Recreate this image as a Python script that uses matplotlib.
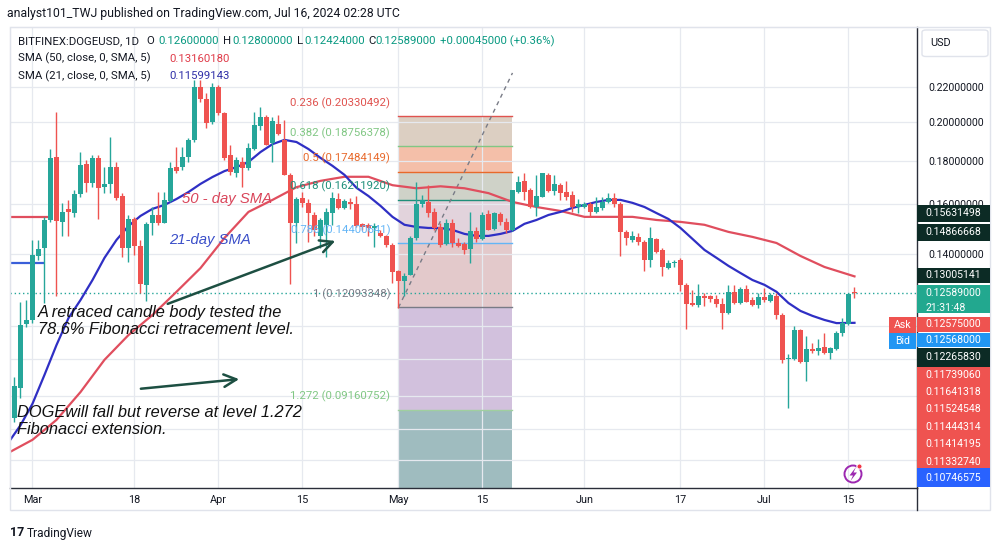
import numpy as np
import pandas as pd
import matplotlib
matplotlib.use("Agg")
import matplotlib.pyplot as plt
import matplotlib.dates as mdates
from matplotlib.patches import Rectangle, Circle, FancyBboxPatch, Polygon
from matplotlib.transforms import IdentityTransform
from matplotlib.ticker import FixedLocator, FixedFormatter, NullFormatter

plt.rcParams['font.family'] = ['Roboto', 'DejaVu Sans']

# ---------------- data ----------------
dates = pd.date_range("2024-02-27", "2024-07-16", freq="D")

opens = [0.0895, 0.0971, 0.1155, 0.1169, 0.1391, 0.1420, 0.1534, 0.1819, 0.1527, 0.1579,
         0.1565, 0.1645, 0.1786, 0.1695, 0.1814, 0.1676, 0.1692, 0.1770, 0.1637, 0.1423,
         0.1537, 0.1430, 0.1286, 0.1521, 0.1555, 0.1523, 0.1617, 0.1770, 0.1773, 0.1819,
         0.1907, 0.2204, 0.2131, 0.2000, 0.2200, 0.2053, 0.1830, 0.1744, 0.1798, 0.1765,
         0.1858, 0.1982, 0.2027, 0.1889, 0.1991, 0.1907, 0.1734, 0.1520, 0.1627, 0.1608,
         0.1555, 0.1467, 0.1514, 0.1565, 0.1622, 0.1583, 0.1612, 0.1602, 0.1516, 0.1514,
         0.1500, 0.1480, 0.1467, 0.1434, 0.1337, 0.1301, 0.1321, 0.1460, 0.1602, 0.1612,
         0.1569, 0.1507, 0.1436, 0.1523, 0.1440, 0.1438, 0.1417, 0.1487, 0.1456, 0.1560,
         0.1496, 0.1560, 0.1524, 0.1494, 0.1657, 0.1706, 0.1664, 0.1587, 0.1634, 0.1734,
         0.1661, 0.1687, 0.1657, 0.1641, 0.1590, 0.1587, 0.1602, 0.1569, 0.1583, 0.1612,
         0.1630, 0.1602, 0.1483, 0.1453, 0.1464, 0.1446, 0.1376, 0.1457, 0.1414, 0.1345,
         0.1366, 0.1376, 0.1286, 0.1223, 0.1218, 0.1248, 0.1246, 0.1237, 0.1221, 0.1191,
         0.1260, 0.1225, 0.1271, 0.1234, 0.1218, 0.1243, 0.1232, 0.1249, 0.1185, 0.1051,
         0.1051, 0.1138, 0.1044, 0.1079, 0.1073, 0.1086, 0.1068, 0.1079, 0.1128, 0.1156,
         0.1260]
highs = [0.1002, 0.1229, 0.1234, 0.1452, 0.1452, 0.1548, 0.1858, 0.2059, 0.1605, 0.1619,
         0.1664, 0.1847, 0.1806, 0.1831, 0.1831, 0.1773, 0.1924, 0.1798, 0.1649, 0.1555,
         0.1548, 0.1452, 0.1527, 0.1590, 0.1657, 0.1657, 0.1798, 0.1872, 0.1872, 0.1916,
         0.2244, 0.2244, 0.2164, 0.2224, 0.2214, 0.2059, 0.1880, 0.1822, 0.1822, 0.1889,
         0.2059, 0.2087, 0.2040, 0.2031, 0.2040, 0.2013, 0.1742, 0.1634, 0.1657, 0.1622,
         0.1569, 0.1541, 0.1583, 0.1657, 0.1652, 0.1622, 0.1627, 0.1637, 0.1521, 0.1521,
         0.1521, 0.1494, 0.1473, 0.1440, 0.1339, 0.1327, 0.1467, 0.1703, 0.1641, 0.1687,
         0.1583, 0.1521, 0.1537, 0.1537, 0.1459, 0.1446, 0.1569, 0.1507, 0.1569, 0.1576,
         0.1569, 0.1569, 0.1541, 0.1664, 0.1728, 0.1741, 0.1672, 0.1734, 0.1744, 0.1741,
         0.1734, 0.1695, 0.1707, 0.1661, 0.1622, 0.1612, 0.1612, 0.1634, 0.1634, 0.1649,
         0.1652, 0.1612, 0.1491, 0.1487, 0.1480, 0.1453, 0.1507, 0.1460, 0.1421, 0.1376,
         0.1376, 0.1383, 0.1291, 0.1268, 0.1288, 0.1257, 0.1251, 0.1251, 0.1240, 0.1286,
         0.1286, 0.1280, 0.1285, 0.1243, 0.1257, 0.1274, 0.1257, 0.1257, 0.1190, 0.1065,
         0.1149, 0.1141, 0.1120, 0.1097, 0.1109, 0.1129, 0.1086, 0.1133, 0.1174, 0.1257,
         0.1280]
lows = [0.0887, 0.0945, 0.1148, 0.1159, 0.1376, 0.1223, 0.1527, 0.1246, 0.1467, 0.1467,
        0.1548, 0.1634, 0.1657, 0.1680, 0.1537, 0.1649, 0.1649, 0.1619, 0.1389, 0.1370,
        0.1395, 0.1257, 0.1232, 0.1473, 0.1514, 0.1521, 0.1612, 0.1743, 0.1758, 0.1798,
        0.1898, 0.2116, 0.1968, 0.1989, 0.2040, 0.1806, 0.1734, 0.1726, 0.1680, 0.1758,
        0.1855, 0.1959, 0.1880, 0.1798, 0.1933, 0.1734, 0.1289, 0.1442, 0.1590, 0.1446,
        0.1467, 0.1421, 0.1389, 0.1514, 0.1579, 0.1579, 0.1579, 0.1507, 0.1494, 0.1467,
        0.1427, 0.1464, 0.1424, 0.1294, 0.1209, 0.1246, 0.1321, 0.1453, 0.1590, 0.1548,
        0.1494, 0.1424, 0.1434, 0.1427, 0.1427, 0.1398, 0.1364, 0.1446, 0.1453, 0.1491,
        0.1494, 0.1514, 0.1480, 0.1487, 0.1649, 0.1619, 0.1583, 0.1551, 0.1631, 0.1657,
        0.1641, 0.1619, 0.1619, 0.1569, 0.1563, 0.1583, 0.1548, 0.1565, 0.1576, 0.1605,
        0.1590, 0.1391, 0.1434, 0.1446, 0.1434, 0.1337, 0.1349, 0.1402, 0.1317, 0.1342,
        0.1351, 0.1263, 0.1142, 0.1215, 0.1212, 0.1215, 0.1229, 0.1212, 0.1142, 0.1189,
        0.1221, 0.1221, 0.1226, 0.1215, 0.1207, 0.1229, 0.1229, 0.1171, 0.1041, 0.0920,
        0.1049, 0.1041, 0.0991, 0.1068, 0.1063, 0.1066, 0.1051, 0.1077, 0.1120, 0.1153,
        0.12424]
closes = [0.0976, 0.1153, 0.1170, 0.1395, 0.1417, 0.1534, 0.1817, 0.1531, 0.1569, 0.1569,
          0.1645, 0.1782, 0.1695, 0.1814, 0.1675, 0.1692, 0.1770, 0.1627, 0.1421, 0.1537,
          0.1431, 0.1288, 0.1518, 0.1555, 0.1523, 0.1620, 0.1765, 0.1753, 0.1819, 0.1907,
          0.2204, 0.2131, 0.1995, 0.2204, 0.2054, 0.1814, 0.1749, 0.1806, 0.1765, 0.1863,
          0.1986, 0.2031, 0.1880, 0.2009, 0.1938, 0.1734, 0.1520, 0.1622, 0.1605, 0.1563,
          0.1491, 0.1534, 0.1566, 0.1627, 0.1583, 0.1614, 0.1602, 0.1511, 0.1507, 0.1500,
          0.1511, 0.1469, 0.1434, 0.1333, 0.1301, 0.1319, 0.1460, 0.1602, 0.1619, 0.1563,
          0.1500, 0.1434, 0.1523, 0.1440, 0.1430, 0.1415, 0.1487, 0.1456, 0.1555, 0.1494,
          0.1563, 0.1527, 0.1491, 0.1662, 0.1702, 0.1657, 0.1590, 0.1637, 0.1741, 0.1661,
          0.1692, 0.1649, 0.1634, 0.1590, 0.1602, 0.1602, 0.1569, 0.1587, 0.1612, 0.1630,
          0.1602, 0.1483, 0.1460, 0.1469, 0.1446, 0.1376, 0.1460, 0.1408, 0.1349, 0.1366,
          0.1370, 0.1286, 0.1221, 0.1218, 0.1246, 0.1241, 0.1237, 0.1221, 0.1191, 0.1260,
          0.1225, 0.1271, 0.1229, 0.1218, 0.1243, 0.1234, 0.1250, 0.1185, 0.1049, 0.1055,
          0.1138, 0.1044, 0.1079, 0.1073, 0.1083, 0.1068, 0.1083, 0.1129, 0.1158, 0.12544,
          0.12589]

# moving averages (days counted from 1 Mar 2024)
sma21_days = [-3.7, -2, 0, 2, 4, 6, 8, 10, 12, 14, 16, 18, 20, 22, 24, 26, 28, 30, 32, 34,
              36, 38, 40, 42, 44, 46, 48, 50, 52, 54, 56, 58, 60, 62, 64, 66, 68, 70, 72, 74,
              76, 78, 80, 82, 84, 86, 88, 90, 92, 94, 96, 98, 100, 102, 104, 106, 108, 110,
              112, 114, 116, 118, 120, 122, 124, 126, 128, 130, 132, 134, 137]
sma21_vals = [0.0844, 0.0878, 0.0931, 0.1007, 0.1092, 0.1175, 0.1234, 0.1303, 0.1384, 0.1453,
              0.1509, 0.1551, 0.1581, 0.1598, 0.1624, 0.1655, 0.1692, 0.1724, 0.1752, 0.1771,
              0.1796, 0.1845, 0.1885, 0.1907, 0.1896, 0.1860, 0.1816, 0.1777, 0.1734, 0.1674,
              0.1637, 0.1594, 0.1547, 0.1514, 0.1505, 0.1501, 0.1501, 0.1493, 0.1477, 0.1469,
              0.1469, 0.1477, 0.1489, 0.1518, 0.1534, 0.1555, 0.1568, 0.1585, 0.1598, 0.1611,
              0.1620, 0.1620, 0.1607, 0.1589, 0.1563, 0.1538, 0.1501, 0.1457, 0.1414, 0.1384,
              0.1354, 0.1328, 0.1303, 0.1286, 0.1262, 0.1224, 0.1198, 0.1182, 0.1169, 0.1159,
              0.11599]
sma50_days = [-3.7, 0, 4, 8, 12, 16, 20, 24, 28, 32, 36, 40, 44, 48, 52, 56, 60, 64, 68, 72,
              76, 80, 84, 88, 92, 96, 100, 104, 108, 112, 116, 120, 124, 128, 132, 137]
sma50_vals = [0.0817, 0.0844, 0.0891, 0.0961, 0.1049, 0.1122, 0.1185, 0.1262, 0.1346, 0.1461,
              0.1568, 0.1620, 0.1677, 0.1706, 0.1725, 0.1725, 0.1686, 0.1672, 0.1681, 0.1672,
              0.1650, 0.1611, 0.1589, 0.1572, 0.1547, 0.1547, 0.1547, 0.1534, 0.1526, 0.1514,
              0.1485, 0.1465, 0.1441, 0.1391, 0.1350, 0.13160]
old_red_level = 0.1548
old_blue_level = 0.1364

fib_levels = ["0.236", "0.382", "0.5", "0.618", "0.786", "1", "1.272"]
fib_prices = [0.20330492, 0.18756378, 0.17484149, 0.16211920, 0.14400641, 0.12093348, 0.09160752]
fib_floor = 0.05430          # 1.618 level
fib_top_anchor = 0.22875     # 0 level
fib_start, fib_end = "2024-05-01", "2024-05-20"

last_price = 0.12589

xtick_dates = ["2024-03-01", "2024-03-18", "2024-04-01", "2024-04-15", "2024-05-01",
               "2024-05-15", "2024-06-01", "2024-06-17", "2024-07-01", "2024-07-15"]
xtick_labels = ["Mar", "18", "Apr", "15", "May", "15", "Jun", "17", "Jul", "15"]
ytick_major = [0.14, 0.16, 0.18, 0.20, 0.22]
ytick_minor = [0.080, 0.087, 0.095, 0.105, 0.115]

# annotations (day offset from 1 Mar, price)
note1_lines = ["A retraced candle body tested the", "78.6% Fibonacci retracement level."]
note1_pos = [(0.9, 0.1193), (0.9, 0.1140)]
note2_lines = ["DOGEwill fall but reverse at level 1.272", "Fibonacci extension."]
note2_pos = [(-2.6, 0.0908), (-2.6, 0.0867)]
arrow1 = [(22.1, 0.1218), (50.9, 0.1453)]
arrow2 = [(17.6, 0.0969), (34.9, 0.0996)]
sma50_label = ("50 - day SMA", 24.9, 0.1626)
sma21_label = ("21-day SMA", 22.8, 0.1453)

# ---------------- figure ----------------
W, H = 1003, 551
fig = plt.figure(figsize=(W / 100, H / 100), dpi=100)
fig.patch.set_facecolor("white")


def fx(px):
    return px / W


def fy(py):
    return 1 - py / H


ax = fig.add_axes([fx(10), fy(487.7), fx(917) - fx(10), fy(27) - fy(487.7)])
ax.set_facecolor("white")

base = mdates.date2num(pd.Timestamp("2024-03-01"))
x = mdates.date2num(dates)
O, Hh, L, C = map(np.array, (opens, highs, lows, closes))
GREEN, RED = "#26a69a", "#ef5350"
cols = np.where(C >= O, GREEN, RED)

ax.set_yscale("log")
ax.set_xlim(base - 3.75, base + 147.42)
ax.set_ylim(0.07410, 0.25917)

# fib zones
fx0 = mdates.date2num(pd.Timestamp(fib_start))
fx1 = mdates.date2num(pd.Timestamp(fib_end))
zone_colors = ["#dccfc2", "#f4bfa9", "#cfd2c8", "#e2d3dc", "#e3c9cb", "#d2c1dd", "#9fbcbf"]
bounds = fib_prices + [fib_floor]
for i in range(len(fib_prices)):
    ax.fill_between([fx0, fx1], bounds[i + 1], bounds[i], color=zone_colors[i], lw=0, zorder=0.3)
line_colors = ["#e0534f", "#81c784", "#e8692b", "#1f8f7a", "#64b5f6", "#787b86", "#9fcf9f"]
label_colors = ["#e0534f", "#81c784", "#e8692b", "#1f8f7a", "#64b5f6", "#787b86", "#81c784"]
for lev, pr, c, lc in zip(fib_levels, fib_prices, line_colors, label_colors):
    ax.plot([fx0, fx1], [pr, pr], color=c, lw=1, zorder=0.6)
    ax.annotate(f"{lev} ({pr:.8f})", xy=(fx0, pr), xytext=(-6, 9.5), textcoords="offset points",
                ha="right", va="center", fontsize=8.2, color=lc, zorder=5)
ax.plot([fx0, fx1], [fib_prices[5], fib_top_anchor], color="#787b86", lw=1,
        ls=(0, (3, 3)), zorder=0.7)

# grid
ax.set_axisbelow(True)
ax.set_xticks(mdates.date2num(pd.to_datetime(xtick_dates)))
ax.set_xticklabels(xtick_labels)
ax.yaxis.set_major_locator(FixedLocator(ytick_major))
ax.yaxis.set_major_formatter(FixedFormatter([f"{v:.8f}" for v in ytick_major]))
ax.yaxis.set_minor_locator(FixedLocator(ytick_minor))
ax.yaxis.set_minor_formatter(NullFormatter())
ax.grid(True, which="both", color="#e6e9ef", lw=0.9)
ax.yaxis.tick_right()
ax.tick_params(axis="y", which="both", length=0, pad=8, labelsize=7.6, labelcolor="#131722")
ax.tick_params(axis="x", length=0, pad=5, labelsize=7.8, labelcolor="#131722")

for s in ["top", "left"]:
    ax.spines[s].set_color("#e0e3eb")
for s in ["bottom", "right"]:
    ax.spines[s].set_color("#2a2e39")
    ax.spines[s].set_linewidth(1.0)

# moving averages
ax.plot(base + np.array(sma50_days), sma50_vals, color="#e04e5e", lw=1.6, zorder=1.8)
ax.plot(base + np.array(sma21_days), sma21_vals, color="#2f2fc4", lw=1.6, zorder=1.9)
ax.plot([base - 3.75, base + 2.75], [old_red_level] * 2, color="#e04e5e", lw=1.6, zorder=1.8)
ax.plot([base - 3.75, base + 1.75], [old_blue_level] * 2, color="#3a5fd9", lw=1.6, zorder=1.8)

# candles
ax.vlines(x, L, Hh, colors=cols, lw=1, zorder=2)
body = np.maximum(np.abs(C - O), 0.003 * C)
ax.bar(x, body, bottom=np.minimum(O, C), width=0.72, color=cols, lw=0, zorder=2.1)

# last price line
ax.axhline(last_price, color="#26a69a", lw=1, ls=(0, (1, 2)), zorder=1.5)

# annotations
for s, (d, p) in zip(note1_lines, note1_pos):
    ax.text(base + d, p, s, fontsize=11.8, style="italic", family="Liberation Sans",
            color="#111111", va="center", ha="left", zorder=6)
for s, (d, p) in zip(note2_lines, note2_pos):
    ax.text(base + d, p, s, fontsize=11.8, style="italic", family="Liberation Sans",
            color="#111111", va="center", ha="left", zorder=6)
for (a, b) in (arrow1, arrow2):
    ax.annotate("", xy=(base + b[0], b[1]), xytext=(base + a[0], a[1]),
                arrowprops=dict(arrowstyle="->,head_length=0.9,head_width=0.45",
                                color="#1d4f42", lw=1.8), zorder=6)
ax.text(base + sma50_label[1], sma50_label[2], sma50_label[0], fontsize=10.7, style="italic",
        family="Liberation Sans", color="#d9455a", va="center", ha="left", zorder=6)
ax.text(base + sma21_label[1], sma21_label[2], sma21_label[0], fontsize=10.7, style="italic",
        family="Liberation Sans", color="#3b4fc9", va="center", ha="left", zorder=6)

# ---------------- chrome ----------------
fig.add_artist(Rectangle((fx(10), fy(510)), fx(990) - fx(10), fy(27) - fy(510),
                         transform=fig.transFigure, fill=False, ec="#e0e3eb", lw=1))
fig.add_artist(plt.Line2D([fx(917), fx(917)], [fy(487.7), fy(510)], color="#2a2e39", lw=1))

fig.text(fx(7), fy(14), "analyst101_TWJ published on TradingView.com, Jul 16, 2024 02:28 UTC",
         fontsize=8.8, color="#131722", va="center")

DARK = "#131722"
TEAL = "#089981"
leg1 = [("BITFINEX:DOGEUSD, 1D", 18, DARK), ("O", 146, DARK), ("0.12600000", 158, TEAL),
        ("H", 223, DARK), ("0.12800000", 232, TEAL), ("L", 297, DARK), ("0.12424000", 304, TEAL),
        ("C", 368, DARK), ("0.12589000", 375, TEAL), ("+0.00045000 (+0.36%)", 440, TEAL)]
for s, px, c in leg1:
    fig.text(fx(px), fy(41), s, fontsize=8.2, color=c, va="center")
fig.text(fx(18), fy(58.5), "SMA (50, close, 0, SMA, 5)", fontsize=8.2, color=DARK, va="center")
fig.text(fx(169), fy(58.5), "0.13160180", fontsize=8.2, color="#e03c4a", va="center")
fig.text(fx(18), fy(76), "SMA (21, close, 0, SMA, 5)", fontsize=8.2, color=DARK, va="center")
fig.text(fx(169), fy(76), "0.11599143", fontsize=8.2, color="#2f2fa8", va="center")

# USD box
fig.add_artist(FancyBboxPatch((fx(922), fy(56.5)), fx(988) - fx(922), fy(30) - fy(56.5),
                              boxstyle="round,pad=0,rounding_size=0.004", transform=fig.transFigure,
                              fc="white", ec="#e0e3eb", lw=1))
fig.text(fx(930), fy(43.5), "USD", fontsize=7.8, color=DARK, va="center")

# price tags on the scale
DK = "#0c2b25"
tag_texts = ["0.15631498", "0.14866668", "0.13005141", "0.12589000", "0.12575000",
             "0.12568000", "0.12265830"]
tag_colors = [DK, DK, DK, "#22a88f", "#ef5350", "#2196f3", DK]
tag_tops = [205, 224, 267.7, 285, 316.7, 333.3, 348]
tag_bots = [221.7, 240.7, 283.3, 313.3, 331.7, 346.7, 366.7]
for s, c, t, b in zip(tag_texts, tag_colors, tag_tops, tag_bots):
    fig.add_artist(Rectangle((fx(917.5), fy(b)), fx(990) - fx(917.5), fy(t) - fy(b),
                             transform=fig.transFigure, fc=c, ec="none", zorder=5))
    yy = (t + b) / 2 if b - t < 20 else t + 8.3
    fig.text(fx(925), fy(yy), s, fontsize=7.6, color="white", va="center", zorder=6)
fig.text(fx(925), fy(307.7), "21:31:48", fontsize=7.6, color="white", va="center", zorder=6)

red_block = ["0.11739060", "0.11641318", "0.11524548", "0.11444314", "0.11414195", "0.11332740"]
fig.add_artist(Rectangle((fx(917.5), fy(468.3)), fx(990) - fx(917.5), fy(366.7) - fy(468.3),
                         transform=fig.transFigure, fc="#ef5350", ec="none", zorder=5))
for i, s in enumerate(red_block):
    fig.text(fx(925), fy(374.6 + i * 17.45), s, fontsize=7.6, color="white", va="center", zorder=6)
fig.add_artist(Rectangle((fx(917.5), fy(486.7)), fx(990) - fx(917.5), fy(468.3) - fy(486.7),
                         transform=fig.transFigure, fc="#2962ff", ec="none", zorder=5))
fig.text(fx(925), fy(478), "0.10746575", fontsize=7.6, color="white", va="center", zorder=6)

# Ask / Bid
for s, c, t, b in [("Ask", "#ef5350", 316.7, 332.7), ("Bid", "#2196f3", 333.3, 349.3)]:
    fig.add_artist(Rectangle((fx(889.3), fy(b)), fx(916.5) - fx(889.3), fy(t) - fy(b),
                             transform=fig.transFigure, fc=c, ec="none", zorder=5))
    fig.text(fx(903), fy((t + b) / 2), s, fontsize=7.6, color="white", va="center",
             ha="center", zorder=6)

# lightning icon (pixel coordinates, origin bottom-left)
ident = IdentityTransform()
fig.add_artist(Circle((853, H - 474), 8.5, transform=ident, fill=False,
                      ec="#9c27b0", lw=1.4, zorder=6))
bolt_px = [(856, 467), (849.5, 475.5), (853, 475.5), (850.5, 481), (857, 472.5), (853.5, 472.5)]
fig.add_artist(Polygon([(a, H - b) for a, b in bolt_px], closed=True,
                       transform=ident, fc="#9c27b0", ec="none", zorder=7))
fig.add_artist(Circle((859.5, H - 466.5), 2.6, transform=ident,
                      fc="#f23645", ec="white", lw=0.8, zorder=8))

# footer
fig.text(fx(10), fy(533), "17", fontsize=9, fontweight="bold", color="#131722", va="center")
fig.text(fx(27), fy(533), "TradingView", fontsize=8.6, color="#131722", va="center")

fig.savefig("out.png", dpi=100, facecolor="white")
